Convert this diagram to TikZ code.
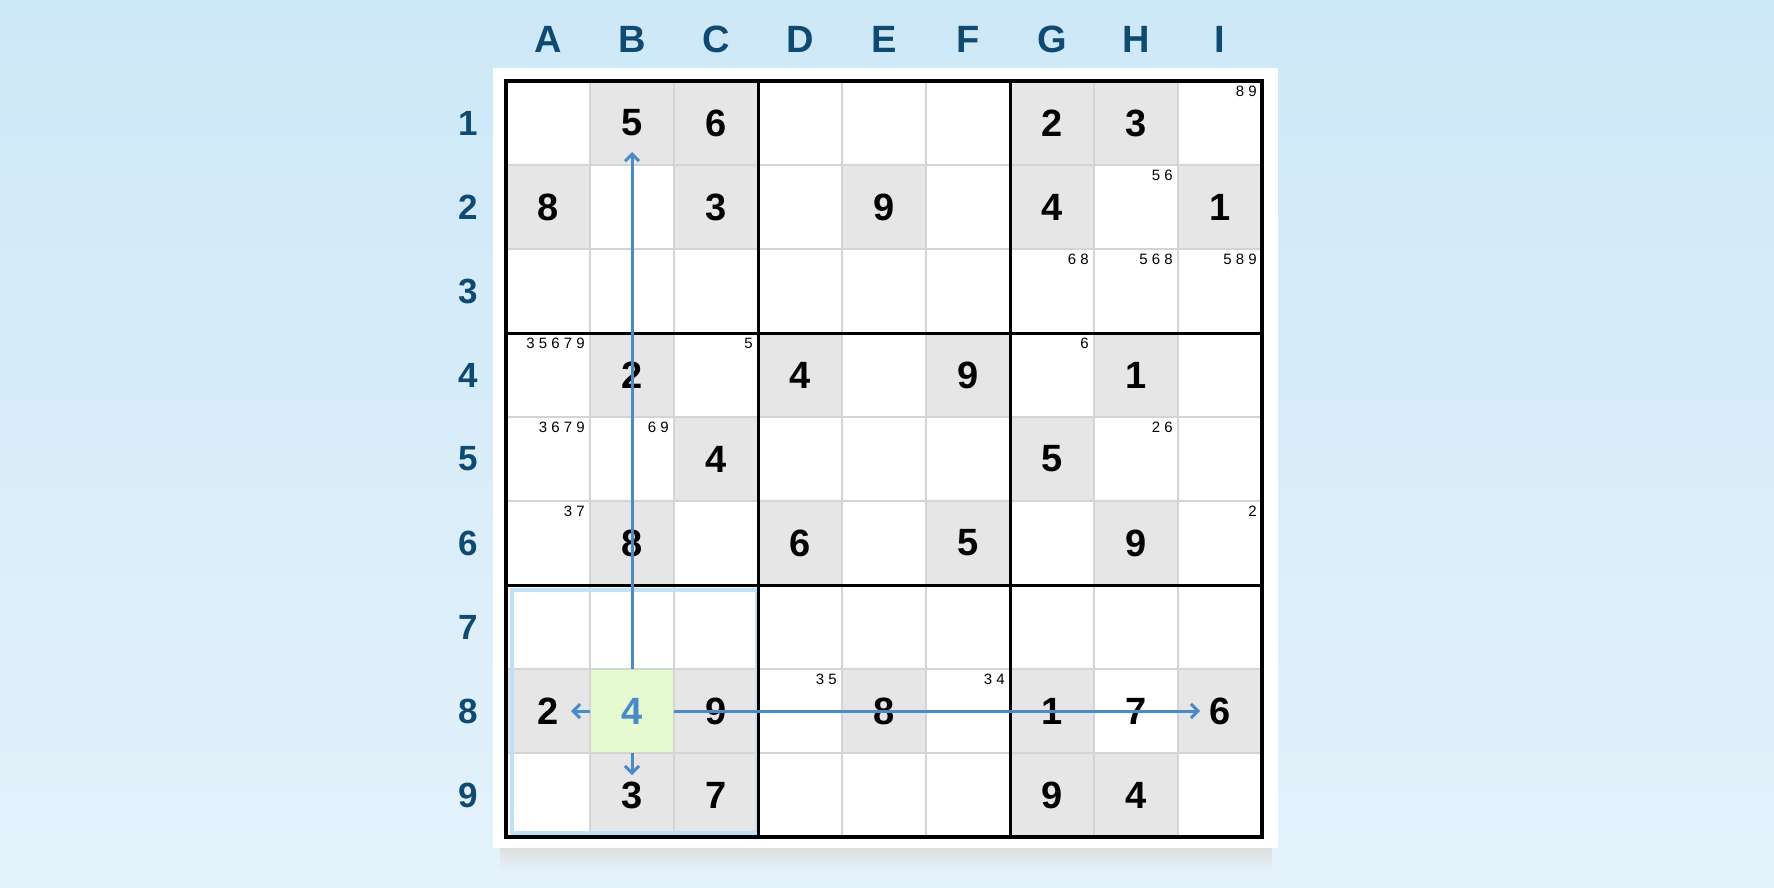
\documentclass[tikz,border=0pt]{standalone}
\usepackage{fontspec}
\setmainfont{Liberation Sans}
\usetikzlibrary{arrows.meta}

\definecolor{bgtop}{HTML}{CDE8F7}
\definecolor{bgbot}{HTML}{E4F2FB}
\definecolor{cellgrey}{HTML}{E6E6E6}
\definecolor{gridgrey}{HTML}{D4D4D4}
\definecolor{boxblue}{HTML}{BFE0F6}
\definecolor{labelblue}{HTML}{0F4A72}
\definecolor{rayblue}{HTML}{4A8AC8}
\definecolor{cellgreen}{HTML}{E6FAD2}

\begin{document}
\begin{tikzpicture}[x=1pt,y=-1pt,
    given/.style={font=\fontsize{38}{38}\selectfont\bfseries, inner sep=0pt},
    cand/.style={font=\fontsize{15}{15}\selectfont, anchor=north east, inner sep=0pt},
    axis/.style={font=\fontsize{38}{38}\selectfont\bfseries, text=labelblue},
    ray/.style={draw=rayblue, line width=3pt, -{Straight Barb[length=7pt,width=14pt]}}]
    % Background and board
    \shade[top color=bgtop, bottom color=bgbot] (0,0) rectangle (1774,887);
    \useasboundingbox (0,0) rectangle (1774,887);
    \shade[top color=black!13, bottom color=bgbot] (500,846) rectangle (1272,872);
    \fill[white] (493,68) rectangle (1278,848);

    % Givens on grey cells
    \foreach \c/\r/\d in {2/1/5, 3/1/6, 7/1/2, 8/1/3,
                          1/2/8, 3/2/3, 5/2/9, 7/2/4, 9/2/1,
                          2/4/2, 4/4/4, 6/4/9, 8/4/1,
                          3/5/4, 7/5/5,
                          2/6/8, 4/6/6, 6/6/5, 8/6/9,
                          1/8/2, 3/8/9, 5/8/8, 7/8/1, 9/8/6,
                          2/9/3, 3/9/7, 7/9/9, 8/9/4}
    {
        \fill[cellgrey] (422+84*\c,-3+84*\r) rectangle ++(84,84);
        \node[given] (g\c\r) at (464+84*\c,39+84*\r) {\d};
    }
    \node[given] (g88) at (1136,711) {7};

    % Selected cell
    \node[given, fill=cellgreen, minimum size=84pt, text=rayblue] (b8) at (632,711) {4};

    % Grid
    \foreach \i in {1,...,8}
    {
        \draw[gridgrey, line width=1.2pt] (506+84*\i,81) -- (506+84*\i,837);
        \draw[gridgrey, line width=1.2pt] (506,81+84*\i) -- (1262,81+84*\i);
    }
    \draw[boxblue, line width=4pt] (512,590) rectangle (757,833);
    \foreach \i in {3,6}
    {
        \draw[line width=3pt] (506+84*\i,81) -- (506+84*\i,837);
        \draw[line width=3pt] (506,81+84*\i) -- (1262,81+84*\i);
    }
    \draw[line width=3.5pt] (506,81) rectangle (1262,837);

    % Pencil marks
    \foreach \c/\r/\t in {9/1/{8 9}, 8/2/{5 6}, 7/3/{6 8}, 8/3/{5 6 8}, 9/3/{5 8 9},
                          1/4/{3 5 6 7 9}, 3/4/5, 7/4/6,
                          1/5/{3 6 7 9}, 2/5/{6 9}, 8/5/{2 6},
                          1/6/{3 7}, 9/6/2, 4/8/{3 5}, 6/8/{3 4}}
        \node[cand] (k\c\r) at (501+84*\c,2+84*\r) {\t};

    % Labels
    \foreach \c/\l in {1/A, 2/B, 3/C, 4/D, 5/E, 6/F, 7/G, 8/H, 9/I}
        \node[axis] (col\l) at (464+84*\c,39) {\l};
    \foreach \r in {1,...,9}
        \node[axis, font=\fontsize{35}{35}\selectfont\bfseries] (row\r) at (468,39+84*\r) {\r};

    % Rays from the selected cell
    \coordinate (rayN) at (632,152);
    \coordinate (rayE) at (1200,711);
    \coordinate (rayW) at (571,711);
    \coordinate (rayS) at (632,775);
    \draw[ray] (b8.north) -- (rayN);
    \draw[ray] (b8.east) -- (rayE);
    \draw[ray] (b8.west) -- (rayW);
    \draw[ray] (b8.south) -- (rayS);
\end{tikzpicture}
\end{document}
